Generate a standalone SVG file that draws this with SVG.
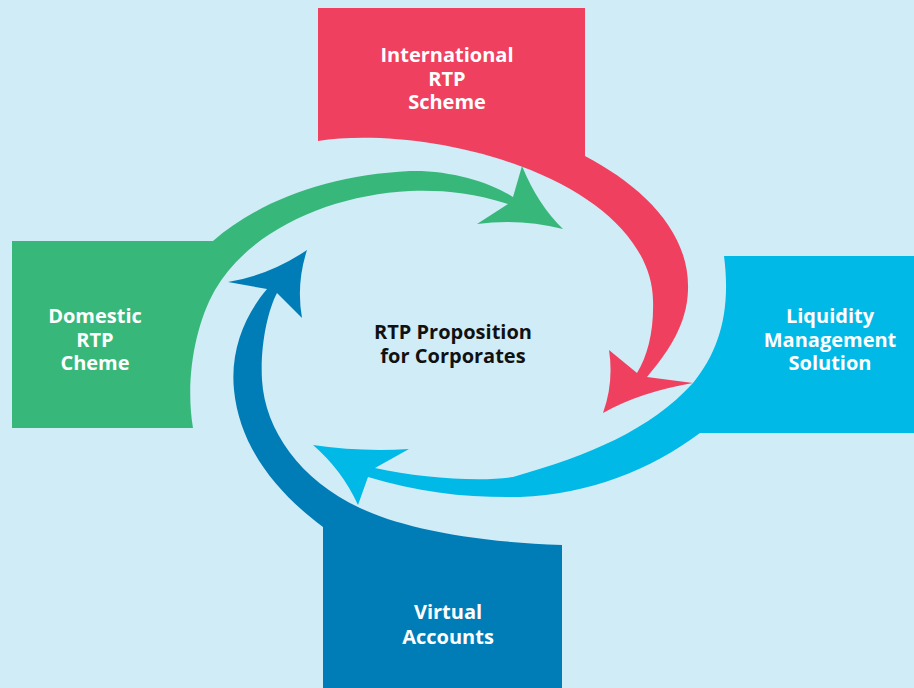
<svg xmlns="http://www.w3.org/2000/svg" width="914" height="688" viewBox="0 0 914 688">
<style>
.lbl{font-family:"Open Sans","Noto Sans","Liberation Sans",sans-serif;font-weight:700;font-size:20px;fill:#ffffff;text-anchor:middle}
.ctr{font-family:"Open Sans","Noto Sans","Liberation Sans",sans-serif;font-weight:700;font-size:20px;fill:#111111;text-anchor:middle}
.red{fill:#F0405F}.grn{fill:#37B87A}.dbl{fill:#007DB7}.lbl2{fill:#00B9E6}
</style>
<rect x="0" y="0" width="914" height="688" fill="#D0ECF7"/>
<g id="international">
<path class="red" d="M318,8 H585 V156 C640,185 690,230 688,290 C687,325 668,352 647,377 L693,383 Q640,392 603,413 Q614,382 609,350 L637,373 C648,355 654,330 653,300 C652,245 600,195 520,166 C450,140 370,133 318,141 Z"/>
<text class="lbl" x="447" y="62">International</text>
<text class="lbl" x="447" y="86">RTP</text>
<text class="lbl" x="447" y="109">Scheme</text>
</g>
<g id="domestic">
<path class="grn" d="M12,241 H213 C260,200 330,175 410,171 C450,170 490,182 513,197 L522,166 Q538,205 563,229 Q520,218 477,224 L508,204 C470,192 440,190 410,191 C330,195 250,230 215,290 C195,325 185,380 193,428 H12 Z"/>
<text class="lbl" x="95" y="323">Domestic</text>
<text class="lbl" x="95" y="347">RTP</text>
<text class="lbl" x="95" y="370">Cheme</text>
</g>
<g id="virtual">
<path class="dbl" d="M323,688 V527 C280,495 240,450 234,390 C230,350 245,315 267,289 L228,282 Q270,275 307,250 Q296,284 302,318 L277,293 C268,310 260,345 262,380 C265,430 300,480 360,508 C400,527 470,542 562,545 V688 Z"/>
<text class="lbl" x="448" y="619">Virtual</text>
<text class="lbl" x="448" y="644">Accounts</text>
</g>
<g id="liquidity">
<path class="lbl2" d="M914,256 H724 C731,310 720,350 693,383 C650,430 590,455 513,477 C480,482 420,478 375,468 L409,449 Q360,452 313,445 Q342,470 358,505 L368,477 C420,493 470,498 520,497 C590,494 650,470 700,433 H914 Z"/>
<text class="lbl" x="830" y="323">Liquidity</text>
<text class="lbl" x="830" y="347">Management</text>
<text class="lbl" x="830" y="370">Solution</text>
</g>
<g id="center">
<text class="ctr" x="453" y="339">RTP Proposition</text>
<text class="ctr" x="453" y="363">for Corporates</text>
</g>
<g id="connectors"></g>
</svg>
